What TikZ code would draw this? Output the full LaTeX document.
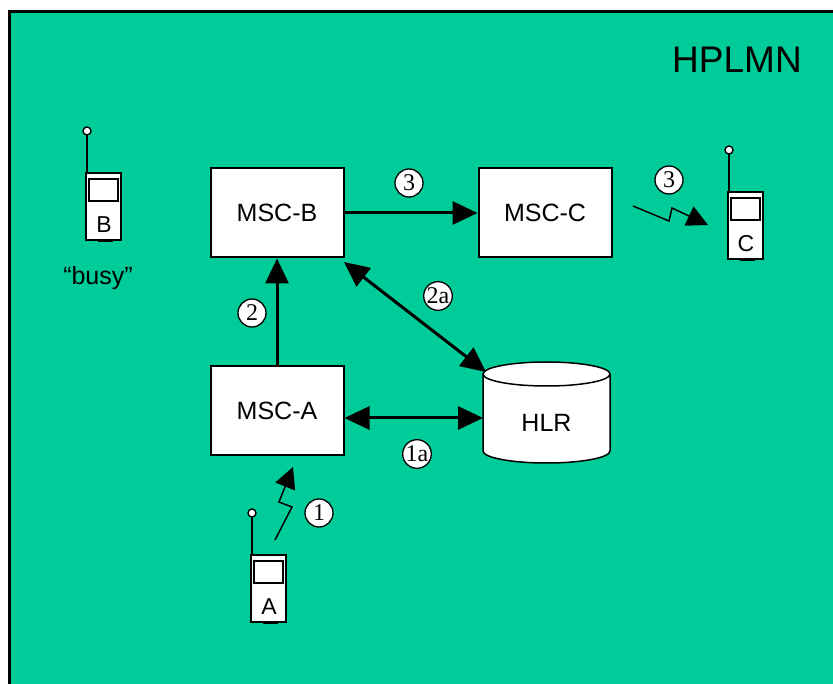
\documentclass[tikz,border=0pt]{standalone}
\usepackage{fontspec}
\setmainfont{Liberation Sans}
\newfontfamily\serifnum{Liberation Serif}
\usetikzlibrary{arrows.meta}
\definecolor{bgteal}{RGB}{0,204,153}
\begin{document}
\begin{tikzpicture}[x=1pt,y=-1pt,
  box/.style={draw, line width=2pt, fill=white, minimum width=133pt, minimum height=89pt, inner sep=0pt, font=\fontsize{25}{30}\selectfont},
  num/.style={circle, draw, line width=1.3pt, fill=white, minimum size=28pt, inner sep=0.3pt, font=\serifnum\fontsize{24}{26}\selectfont},
  link/.style={line width=3pt, -{Triangle[length=25pt,width=23pt]}},
  dlink/.style={line width=3pt, {Triangle[length=25pt,width=23pt]}-{Triangle[length=25pt,width=23pt]}},
  bolt/.style={line width=1.5pt, -{Triangle[length=21pt,width=21pt]}},
  lbl/.style={font=\fontsize{25}{30}\selectfont, inner sep=0pt},
  pics/phone/.style={code={
    \draw[line width=2pt] (1,0) -- (1,-38);
    \draw[line width=1.4pt, fill=white] (1,-42) circle[radius=4pt];
    \fill (12,66) rectangle (27,69);
    \draw[line width=2pt, fill=white] (0,0) rectangle (35,67);
    \draw[line width=1.5pt, fill=white] (3,6) rectangle (32,28);
    \node[font=\fontsize{23}{26}\selectfont, inner sep=0pt] at (18,52) {#1};
  }}
]
\useasboundingbox (0,0) rectangle (833,684);
\clip (0,0) rectangle (833,684);
\fill[white] (0,0) rectangle (833,684);
\draw[line width=3pt, fill=bgteal] (9.5,11.5) rectangle (860,720);

\node[font=\fontsize{37}{40}\selectfont, inner sep=0pt] (hplmn) at (737,60) {HPLMN};

% boxes
\node[box] (mscb) at (277,213) {MSC-B};
\node[box] (mscc) at (545,213) {MSC-C};
\node[box] (msca) at (277,411) {MSC-A};

% HLR cylinder
\draw[line width=1.5pt, fill=white] (483,374) -- (483,451)
  arc[start angle=180, end angle=360, x radius=63.5pt, y radius=12pt]
  -- (610,374)
  arc[start angle=0, end angle=180, x radius=63.5pt, y radius=12pt] -- cycle;
\draw[line width=1.5pt] (483,374) arc[start angle=180, end angle=360, x radius=63.5pt, y radius=12pt];
\node[lbl] (hlr) at (546.5,423) {HLR};
\coordinate (hlrL) at (483,418);
\coordinate (hlrT) at (486,372);
\coordinate (mscbC) at (344,262);

% phones
\pic at (86,173) {phone=B};
\pic at (728,192) {phone=C};
\pic at (251,555) {phone=A};
\node[lbl] (busy) at (98,278) {“busy”};

% connectors
\draw[link] (mscb.east) -- (mscc.west);
\draw[link] (msca.north) -- (mscb.south);
\draw[dlink] (msca.east |- hlrL) -- (hlrL);
\draw[dlink] (mscbC) -- (hlrT);

% radio links
\coordinate (c0) at (633,206);
\coordinate (c3) at (708,225);
\draw[bolt] (c0) -- (669,221) -- (672,208) -- (c3);
\coordinate (a0) at (275,540);
\coordinate (a3) at (293,467);
\draw[bolt] (a0) -- (292,507) -- (279,502) -- (a3);

% numbers
\node[num] (n3a) at (409,183) {3};
\node[num] (n3b) at (669,180) {3};
\node[num] (n2) at (252,313) {2};
\node[num] (n2a) at (438,296) {2a};
\node[num] (n1a) at (417,454) {1a};
\node[num] (n1) at (319,513) {1};
\end{tikzpicture}
\end{document}
